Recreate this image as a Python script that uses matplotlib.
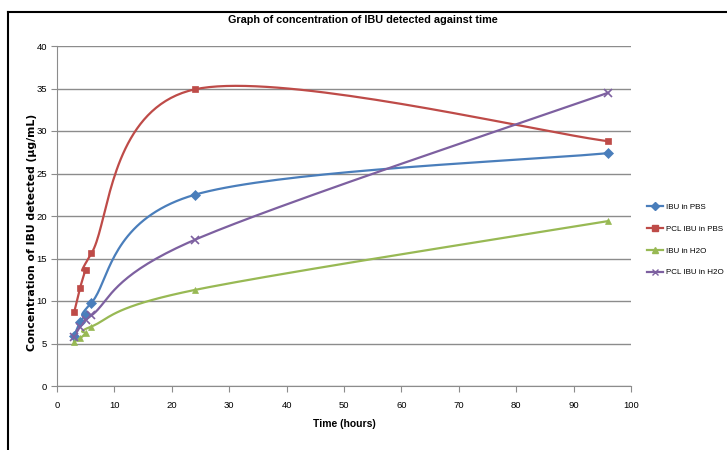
import numpy as np
import matplotlib
matplotlib.use("Agg")
import matplotlib.pyplot as plt
from matplotlib.lines import Line2D

plt.rcParams['font.family'] = ['Liberation Sans', 'DejaVu Sans']

time_h = [3, 4, 5, 6, 24, 96]
ibu_pbs = [5.9, 7.5, 8.4, 9.8, 22.5, 27.4]
pcl_ibu_pbs = [8.7, 11.5, 13.7, 15.6, 34.9, 28.8]
ibu_h2o = [5.2, 5.6, 6.2, 7.0, 11.3, 19.4]
pcl_ibu_h2o = [5.8, 7.0, 7.8, 8.3, 17.2, 34.5]

series_names = ["IBU in PBS", "PCL IBU in PBS", "IBU in H2O", "PCL IBU in H2O"]
colors = ["#4a7ebb", "#be4b48", "#98b954", "#7d60a0"]
markers = ["D", "s", "^", "x"]


def excel_smooth(x, y, n=40):
    x = np.asarray(x, float)
    y = np.asarray(y, float)
    P = np.column_stack([x, y])
    out = []
    m = len(P)
    for i in range(m - 1):
        p0 = P[i - 1] if i > 0 else P[i]
        p1 = P[i]
        p2 = P[i + 1]
        p3 = P[i + 2] if i + 2 < m else P[i + 1]
        c1 = p1 + (p2 - p0) / 6.0
        c2 = p2 - (p3 - p1) / 6.0
        t = np.linspace(0, 1, n)[:, None]
        seg = ((1 - t) ** 3) * p1 + 3 * ((1 - t) ** 2) * t * c1 + 3 * (1 - t) * t ** 2 * c2 + t ** 3 * p2
        out.append(seg if i == 0 else seg[1:])
    S = np.vstack(out)
    return S[:, 0], S[:, 1]


fig = plt.figure(figsize=(7.27, 4.5), dpi=100)
ax = fig.add_axes([57 / 727, 1 - 386 / 450, (631 - 57) / 727, (386 - 46) / 450])

data = [ibu_pbs, pcl_ibu_pbs, ibu_h2o, pcl_ibu_h2o]
handles = []
for vals, name, c, mk in zip(data, series_names, colors, markers):
    sx, sy = excel_smooth(time_h, vals)
    ax.plot(sx, sy, color=c, lw=1.6, zorder=3)
    ms = 5 if mk != "x" else 6
    ax.plot(time_h, vals, linestyle="none", marker=mk, color=c, ms=ms,
            mew=1.2 if mk == "x" else 0.5, zorder=4)
    handles.append(Line2D([], [], color=c, lw=1.6, marker=mk, ms=4, mew=1.0, label=name))

ax.set_xlim(0, 100)
ax.set_ylim(0, 40)
ax.set_xticks(np.arange(0, 101, 10))
ax.set_yticks(np.arange(0, 41, 5))
ax.yaxis.grid(True, color="#8c8c8c", lw=1.0)
ax.set_axisbelow(True)
for s in ["top", "right"]:
    ax.spines[s].set_visible(False)
for s in ["left", "bottom"]:
    ax.spines[s].set_color("#8c8c8c")
ax.tick_params(axis="both", labelsize=6.8, colors="#8c8c8c", labelcolor="black", length=4)
ax.tick_params(axis="x", pad=7)
ax.tick_params(axis="y", pad=3)

ax.set_xlabel("Time (hours)", fontsize=7.5, fontweight="bold")
ax.xaxis.set_label_coords((344 - 57) / 574, (386 - 424) / 340)
ax.xaxis.label.set_va("center")
ax.set_ylabel("Concentration of IBU detected (µg/mL)", fontsize=7.8, fontweight="bold",
              family="DejaVu Sans")
ax.yaxis.set_label_coords((32 - 57) / 574, (386 - 232) / 340)
ax.yaxis.label.set_va("center")

fig.text(363 / 727, 1 - 20 / 450, "Graph of concentration of IBU detected against time",
         ha="center", va="center", fontsize=7.8, fontweight="bold")

leg = fig.legend(handles=handles, loc="center left", bbox_to_anchor=(640 / 727, 1 - 240 / 450),
                 frameon=False, handlelength=2.0, labelspacing=1.75, handletextpad=0.3,
                 prop={"size": 5.8})

# outer frame (partially visible border)
fig.add_artist(Line2D([8 / 727, 8 / 727], [0, 1 - 12 / 450], color="black", lw=1.5,
                      transform=fig.transFigure))
fig.add_artist(Line2D([8 / 727, 1], [1 - 12 / 450, 1 - 12 / 450], color="black", lw=1.5,
                      transform=fig.transFigure))

fig.savefig("out.png", dpi=100)
